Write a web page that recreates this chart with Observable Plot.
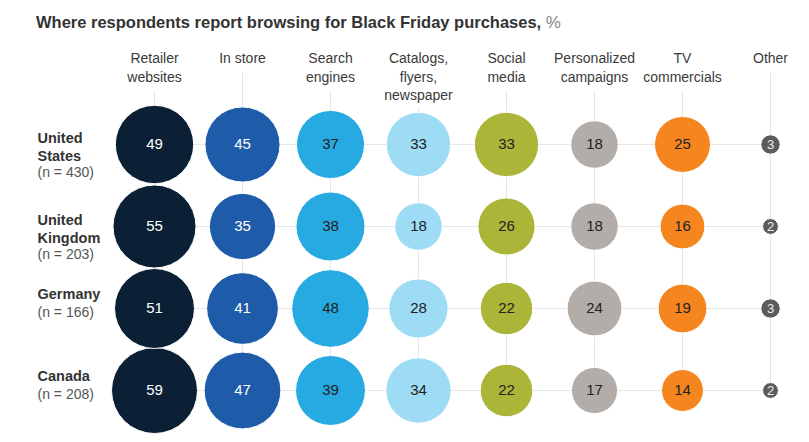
<!DOCTYPE html>
<html><head><meta charset="utf-8">
<script src="https://cdn.jsdelivr.net/npm/d3@7"></script>
<script src="https://cdn.jsdelivr.net/npm/@observablehq/plot@0.6"></script>
<style>
body{margin:0;background:#fff;font-family:"Liberation Sans",Arial,Helvetica,sans-serif;}
#title{height:44px;line-height:44px;padding-left:36px;font-size:16.5px;font-weight:bold;color:#333;white-space:nowrap;}
#title span{font-weight:normal;color:#888;font-size:17px;}
svg{font-family:"Liberation Sans",Arial,Helvetica,sans-serif;}
</style></head><body>
<div id="title">Where respondents report browsing for Black Friday purchases, <span>%</span></div>
<div id="chart"></div>
<script>
const channels = ["Retailer websites","In store","Search engines","Catalogs, flyers, newspaper","Social media","Personalized campaigns","TV commercials","Other"];
const channelLabels = ["Retailer\nwebsites","In store","Search\nengines","Catalogs,\nflyers,\nnewspaper","Social\nmedia","Personalized\ncampaigns","TV\ncommercials","Other"];
const channelColors = ["#0b1f35","#1e5ba8","#27a9e1","#9edcf6","#abb537","#b2ada9","#f5851f","#5c5c5c"];
const countries = ["United States","United Kingdom","Germany","Canada"];
const countryLabels = ["United\nStates","United\nKingdom","Germany","Canada"];
const sampleSizes = ["(n = 430)","(n = 203)","(n = 166)","(n = 208)"];
const usValues      = [49,45,37,33,33,18,25,3];
const ukValues      = [55,35,38,18,26,18,16,2];
const germanyValues = [51,41,48,28,22,24,19,3];
const canadaValues  = [59,47,39,34,22,17,14,2];

const valuesByCountry = [usValues, ukValues, germanyValues, canadaValues];
const data = countries.flatMap((c,i) => channels.map((ch,j) => ({country:c, channel:ch, idx:j, value:valuesByCountry[i][j]})));
const headers = channels.map((c,i) => ({channel:c, label:channelLabels[i], lines:channelLabels[i].split("\n").length}));
const rows = countries.map((c,i) => ({country:c, label:countryLabels[i], n:sampleSizes[i], lines:countryLabels[i].split("\n").length}));

const gridColor = "#e6e6e6";
const firstRowY = 99.3;
const ruleTops = {1:28, 2:46, 3:63};

const marks = [
  Plot.ruleY(countries, {y: d => d, x1: () => channels[0], x2: () => channels[channels.length-1], stroke: gridColor, strokeWidth: 1}),
  ...[1,2,3].map(k => Plot.ruleX(headers.filter(d => d.lines === k), {x: "channel", y1: () => countries[0], y2: () => countries[countries.length-1], insetTop: ruleTops[k] - firstRowY, stroke: gridColor, strokeWidth: 1})),
  Plot.dot(data, {x: "channel", y: "country", r: "value", fill: "channel", stroke: "white", strokeWidth: 1}),
  Plot.text(data.filter(d => d.idx < 2), {x: "channel", y: "country", text: d => String(d.value), fill: "#ffffff", fontSize: 15}),
  Plot.text(data.filter(d => d.idx >= 2 && d.idx < 7), {x: "channel", y: "country", text: d => String(d.value), fill: "#222222", fontSize: 15}),
  Plot.text(data.filter(d => d.idx === 7), {x: "channel", y: "country", text: d => String(d.value), fill: "#eeeeee", fontSize: 13}),
  Plot.text(headers, {x: "channel", text: "label", frameAnchor: "top", lineAnchor: "top", dy: 6, fontSize: 14, lineHeight: 1.3, fill: "#3a3a3a"}),
  Plot.text(rows.filter(d => d.lines === 2), {y: "country", text: "label", frameAnchor: "left", textAnchor: "start", dx: 37, dy: 2, fontSize: 14.5, fontWeight: "bold", lineHeight: 1.25, fill: "#333"}),
  Plot.text(rows.filter(d => d.lines === 2), {y: "country", text: "n", frameAnchor: "left", textAnchor: "start", dx: 37, dy: 28, fontSize: 14, fill: "#555"}),
  Plot.text(rows.filter(d => d.lines === 1), {y: "country", text: "label", frameAnchor: "left", textAnchor: "start", dx: 37, dy: -14, fontSize: 14.5, fontWeight: "bold", fill: "#333"}),
  Plot.text(rows.filter(d => d.lines === 1), {y: "country", text: "n", frameAnchor: "left", textAnchor: "start", dx: 37, dy: 4, fontSize: 14, fill: "#555"})
];

const chart = Plot.plot({
  width: 809,
  height: 398,
  marginTop: 0, marginBottom: 0, marginLeft: 0, marginRight: 0,
  style: {background: "#fff", fontFamily: "'Liberation Sans', Arial, Helvetica, sans-serif"},
  x: {type: "point", domain: channels, range: [152, 771], padding: 0, axis: null},
  y: {type: "point", domain: countries, range: [firstRowY, 347.7], padding: 0, axis: null},
  r: {type: "sqrt", domain: [0, 59], range: [0, 43]},
  color: {type: "ordinal", domain: channels, range: channelColors},
  marks
});
document.getElementById("chart").appendChild(chart);
</script>
</body></html>
